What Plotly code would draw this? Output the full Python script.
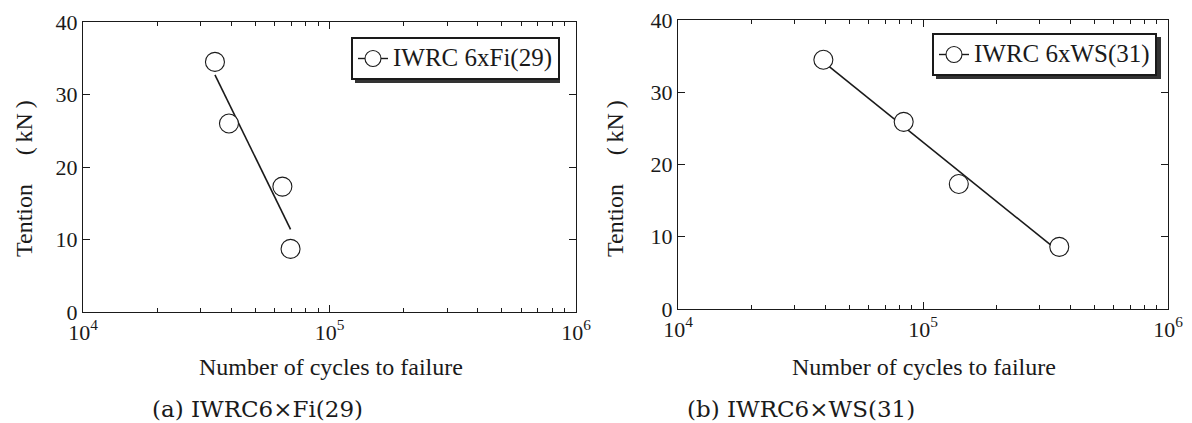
import plotly.graph_objects as go

# ---------------- data ----------------
fi_cycles = [34300, 39100, 64400, 69500]
fi_tension = [34.5, 26.0, 17.3, 8.7]
fi_fit_cycles = [34300, 69500]
fi_fit_tension = [32.7, 11.4]

ws_cycles = [39200, 83400, 140000, 360000]
ws_tension = [34.5, 25.9, 17.3, 8.6]
ws_fit_cycles = [39200, 360000]
ws_fit_tension = [34.2, 7.9]

x_major = [1e4, 1e5, 1e6]
x_major_text = ["10<sup>4</sup>", "10<sup>5</sup>", "10<sup>6</sup>"]
x_minor = [k * 1e4 for k in range(2, 10)] + [k * 1e5 for k in range(2, 10)]
y_ticks = [0, 10, 20, 30, 40]

legend_a = "IWRC 6xFi(29)"
legend_b = "IWRC 6xWS(31)"
caption_a = "(a) IWRC6×Fi(29)"
caption_b = "(b) IWRC6×WS(31)"
x_title = "Number of cycles to failure"
y_title = "Tention\u3000\u2009(\u2009kN\u2009)"

# page has an 8px body margin: figure is drawn at (8, 8) inside the 1192x423 window
OFF = 8
PW, PH = 1192, 423
W, H = PW - OFF, PH - OFF
SERIF = "Liberation Serif, Times New Roman, serif"
CAP = "DejaVu Serif, serif"
INK = "#1a1a1a"


def px(x):
    return (x - OFF) / W


def py(y):
    return 1 - (y - OFF) / H


fig = go.Figure()

panels = [
    ("x", "y", fi_cycles, fi_tension, fi_fit_cycles, fi_fit_tension, legend_a, "legend"),
    ("x2", "y2", ws_cycles, ws_tension, ws_fit_cycles, ws_fit_tension, legend_b, "legend2"),
]
for xa, ya, cx, ty, fx, fy, name, leg in panels:
    fig.add_trace(go.Scatter(x=fx, y=fy, mode="lines", xaxis=xa, yaxis=ya,
                             line=dict(color=INK, width=1.6), showlegend=False,
                             hoverinfo="skip"))
    fig.add_trace(go.Scatter(x=cx, y=ty, mode="markers", xaxis=xa, yaxis=ya,
                             marker=dict(symbol="circle", size=19, color="white",
                                         line=dict(color=INK, width=1.1)),
                             showlegend=False))
    fig.add_trace(go.Scatter(x=[None], y=[None], mode="lines+markers", xaxis=xa, yaxis=ya,
                             name='<span style="font-size:25px">' + name + "</span>",
                             legend=leg,
                             marker=dict(symbol="circle", size=19, color="white",
                                         line=dict(color=INK, width=1.1)),
                             line=dict(color=INK, width=1.4), showlegend=True))

xcommon = dict(type="log", range=[4, 6], showline=True, linecolor=INK, linewidth=1.3,
               mirror="ticks", ticks="inside", ticklen=7, tickwidth=1.1, tickcolor=INK,
               tickmode="array", tickvals=x_major, ticktext=x_major_text,
               minor=dict(tickmode="array", tickvals=x_minor, ticks="inside", ticklen=4,
                          tickwidth=1, tickcolor=INK, showgrid=False),
               showgrid=False, zeroline=False, automargin=False,
               ticklabeloverflow="allow",
               tickfont=dict(family=SERIF, size=22, color=INK))
ycommon = dict(range=[0, 40], showline=True, linecolor=INK, linewidth=1.3,
               mirror="ticks", ticks="inside", ticklen=7, tickwidth=1.1, tickcolor=INK,
               tickmode="array", tickvals=y_ticks, showgrid=False, zeroline=False,
               automargin=False, ticklabeloverflow="allow",
               tickfont=dict(family=SERIF, size=22, color=INK))

legend_style = dict(xanchor="left", yanchor="top", bgcolor="white", bordercolor=INK,
                    borderwidth=2, font=dict(family=SERIF, size=20, color=INK))

fig.update_layout(
    width=W, height=H,
    margin=dict(l=0, r=0, t=0, b=0, autoexpand=False),
    paper_bgcolor="white", plot_bgcolor="white",
    xaxis=dict(xcommon, domain=[px(83), px(576)], anchor="y"),
    yaxis=dict(ycommon, domain=[py(312), py(22)], anchor="x"),
    xaxis2=dict(xcommon, domain=[px(678), px(1168)], anchor="y2"),
    yaxis2=dict(ycommon, domain=[py(309), py(20)], anchor="x2"),
    legend=dict(legend_style, x=px(351), y=py(37)),
    legend2=dict(legend_style, x=px(932), y=py(33)),
    showlegend=True,
)

annos = [
    dict(text=y_title, x=px(24), y=py(179), textangle=-90,
         font=dict(family=SERIF, size=24, color=INK)),
    dict(text=y_title, x=px(615), y=py(179), textangle=-90,
         font=dict(family=SERIF, size=24, color=INK)),
    dict(text=x_title, x=px(331), y=py(367),
         font=dict(family=SERIF, size=24, color=INK)),
    dict(text=x_title, x=px(924), y=py(367),
         font=dict(family=SERIF, size=24, color=INK)),
    dict(text=caption_a, x=px(257), y=py(409),
         font=dict(family=CAP, size=23, color=INK)),
    dict(text=caption_b, x=px(801), y=py(409),
         font=dict(family=CAP, size=23, color=INK)),
]
for a in annos:
    fig.add_annotation(xref="paper", yref="paper", xanchor="center", yanchor="middle",
                       showarrow=False, **a)

# legend drop shadows
for (x0, y0, x1, y1) in [(351, 37, 556, 79), (932, 33, 1157, 75)]:
    fig.add_shape(type="rect", xref="paper", yref="paper",
                  x0=px(x0 + 4), x1=px(x1 + 4), y0=py(y1 + 4), y1=py(y0 + 4),
                  fillcolor="#333333", line=dict(width=0), layer="above")

fig.write_html("out.html")
